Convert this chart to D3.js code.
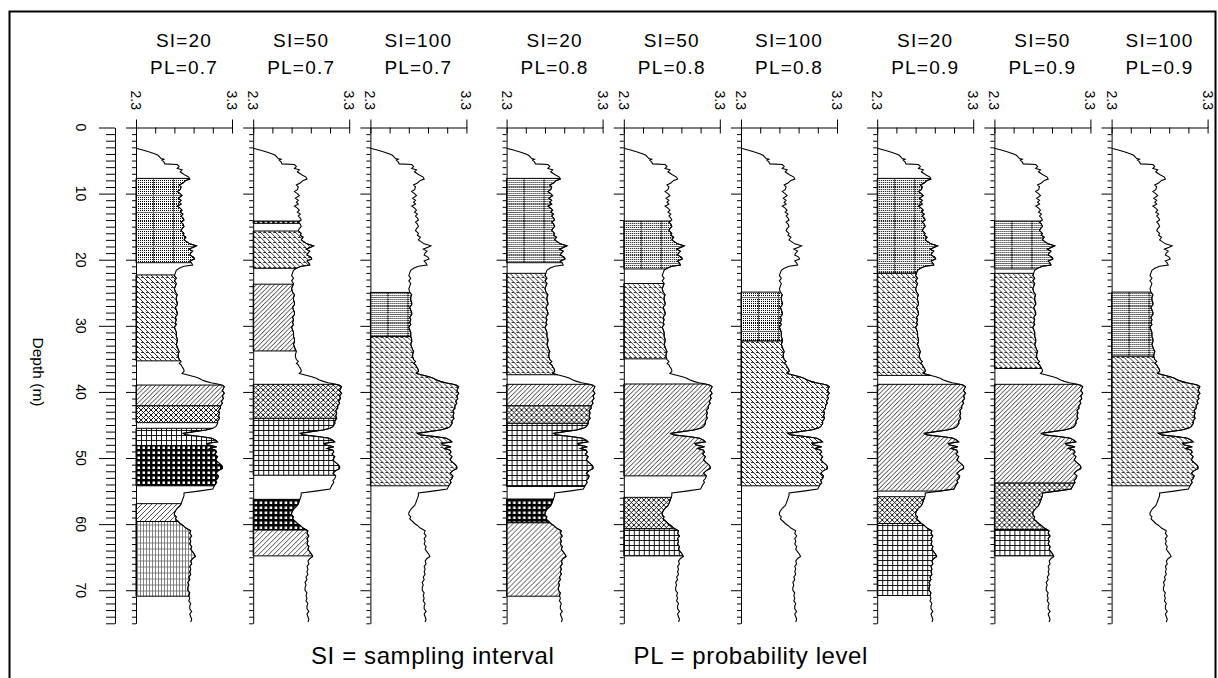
<!DOCTYPE html>
<html>
<head>
<meta charset="utf-8">
<script src="https://cdn.jsdelivr.net/npm/d3@7"></script>
<style>
  body { margin: 0; background: #fff; }
  svg { display: block; font-family: "Liberation Sans", Arial, sans-serif; }
</style>
</head>
<body>
<svg id="chart" width="1218" height="678"></svg>
<script>
// log curve: depth (m) and value (2.3 - 3.3)
const depth = [3.15, 3.4, 3.7, 4.0, 4.2, 4.5, 4.7, 4.8, 4.95, 5.2, 5.5, 5.6, 5.9, 6.2, 6.4, 6.7, 7.0, 7.2, 7.5, 7.8,
  8.0, 8.4, 8.7, 9.0, 9.4, 9.7, 10.0, 10.3, 10.7, 11.0, 11.3, 11.6, 11.9, 12.2, 12.5, 12.8, 13.1, 13.4, 13.7, 14.0,
  14.3, 14.6, 15.0, 15.3, 15.6, 16.0, 16.3, 16.6, 17.0, 17.3, 17.6, 17.9, 18.1, 18.4, 18.7, 19.0, 19.3, 19.6, 19.9, 20.2,
  20.5, 20.8, 21.0, 21.3, 21.6, 22.0, 22.4, 22.8, 23.2, 23.6, 24.0, 24.4, 24.9, 25.3, 25.7, 26.1, 26.5, 26.8, 27.2, 27.6,
  28.0, 28.3, 28.7, 29.1, 29.5, 29.8, 30.2, 30.6, 31.0, 31.6, 32.0, 32.4, 32.8, 33.2, 33.6, 33.9, 34.3, 34.7, 35.1, 35.4,
  35.7, 35.9, 36.2, 36.4, 36.7, 36.9, 37.2, 37.4, 37.7, 37.9, 38.2, 38.4, 38.6, 38.8, 39.0, 39.2, 39.5, 39.8, 40.2, 40.6,
  41.0, 41.4, 41.7, 42.1, 42.5, 42.8, 43.2, 43.6, 44.0, 44.4, 44.8, 45.26, 45.5, 45.76, 46.0, 46.27, 46.5, 46.77, 47.0, 47.3,
  47.55, 47.8, 48.0, 48.3, 48.55, 48.8, 49.1, 49.4, 49.8, 50.3, 50.7, 51.06, 51.3, 51.6, 51.9, 52.3, 52.7, 53.1, 53.4, 53.7,
  54.1, 54.4, 54.7, 55.0, 55.3, 55.7, 56.1, 56.5, 56.9, 57.2, 57.6, 58.0, 58.3, 58.6, 58.9, 59.2, 59.6, 59.9, 60.2, 60.6,
  61.0, 61.4, 61.8, 62.2, 62.6, 63.0, 63.4, 63.8, 64.2, 64.6, 64.9, 65.2, 65.6, 66.0, 66.4, 66.8, 67.2, 67.6, 68.0, 68.4,
  68.8, 69.2, 69.6, 70.0, 70.4, 70.8, 71.2, 71.6, 72.0, 72.4, 72.8, 73.2, 73.6, 74.0, 74.4, 74.8];
const logValue = [2.30, 2.37, 2.44, 2.50, 2.53, 2.55, 2.56, 2.59, 2.57, 2.59, 2.60, 2.73, 2.75, 2.73, 2.78, 2.76, 2.79, 2.81, 2.85, 2.86,
  2.82, 2.79, 2.75, 2.77, 2.76, 2.73, 2.76, 2.78, 2.74, 2.77, 2.75, 2.77, 2.73, 2.76, 2.78, 2.76, 2.79, 2.77, 2.79, 2.80,
  2.77, 2.79, 2.80, 2.78, 2.77, 2.80, 2.79, 2.82, 2.80, 2.83, 2.86, 2.93, 2.90, 2.85, 2.89, 2.87, 2.86, 2.90, 2.91, 2.86,
  2.88, 2.89, 2.80, 2.75, 2.72, 2.71, 2.70, 2.72, 2.70, 2.72, 2.71, 2.70, 2.71, 2.73, 2.72, 2.72, 2.73, 2.73, 2.71, 2.72,
  2.73, 2.73, 2.71, 2.72, 2.71, 2.72, 2.70, 2.71, 2.72, 2.72, 2.73, 2.73, 2.72, 2.73, 2.74, 2.75, 2.74, 2.74, 2.75, 2.77,
  2.75, 2.77, 2.78, 2.79, 2.80, 2.80, 2.78, 2.83, 2.91, 2.95, 2.99, 3.03, 3.08, 3.15, 3.20, 3.22, 3.21, 3.20, 3.22, 3.20,
  3.21, 3.19, 3.20, 3.18, 3.18, 3.16, 3.17, 3.16, 3.17, 3.15, 3.15, 3.13, 3.10, 3.03, 2.91, 2.79, 2.82, 2.99, 3.09, 3.13,
  3.15, 3.04, 3.05, 3.14, 3.07, 3.13, 3.14, 3.12, 3.15, 3.13, 3.16, 3.19, 3.20, 3.20, 3.16, 3.13, 3.16, 3.15, 3.13, 3.14,
  3.12, 3.11, 3.10, 2.95, 2.80, 2.80, 2.79, 2.78, 2.77, 2.76, 2.73, 2.71, 2.70, 2.70, 2.72, 2.71, 2.74, 2.76, 2.79, 2.82,
  2.87, 2.86, 2.88, 2.86, 2.87, 2.86, 2.88, 2.87, 2.89, 2.91, 2.92, 2.89, 2.87, 2.88, 2.86, 2.87, 2.86, 2.87, 2.85, 2.86,
  2.84, 2.85, 2.84, 2.84, 2.86, 2.85, 2.86, 2.85, 2.87, 2.86, 2.86, 2.88, 2.86, 2.87, 2.88, 2.87];

const siLabels = ['SI=20', 'SI=50', 'SI=100', 'SI=20', 'SI=50', 'SI=100', 'SI=20', 'SI=50', 'SI=100'];
const plLabels = ['PL=0.7', 'PL=0.7', 'PL=0.7', 'PL=0.8', 'PL=0.8', 'PL=0.8', 'PL=0.9', 'PL=0.9', 'PL=0.9'];
const valueTicks = [2.3, 2.5, 2.7, 2.9, 3.1, 3.3];
const valueLabels = ['2.3', '3.3'];
const depthLabels = [0, 10, 20, 30, 40, 50, 60, 70];

// zones per panel: [top depth, bottom depth, pattern]
const zones1 = [[7.7, 20.45, 'A'], [22.3, 35.3, 'B'], [38.96, 42.1, 'C'], [42.1, 44.65, 'D'], [45.5, 48.1, 'E'], [48.1, 54.2, 'F'], [56.9, 59.6, 'G'], [59.6, 70.9, 'H']];
const zones2 = [[14.15, 14.5, 'F'], [15.66, 21.3, 'B'], [23.7, 33.8, 'C'], [38.85, 44.0, 'D'], [44.0, 52.6, 'E'], [56.25, 60.9, 'F'], [60.9, 64.8, 'G']];
const zones3 = [[24.95, 31.6, 'A'], [31.6, 54.2, 'B']];
const zones4 = [[7.7, 20.45, 'A'], [22.06, 37.4, 'B'], [38.85, 42.1, 'C'], [42.1, 44.75, 'D'], [44.75, 54.3, 'E'], [56.2, 59.8, 'F'], [59.8, 70.9, 'G']];
const zones5 = [[14.15, 21.4, 'A'], [23.6, 35.0, 'B'], [38.8, 52.7, 'C'], [55.95, 60.7, 'D'], [60.7, 64.8, 'E']];
const zones6 = [[24.9, 32.3, 'A'], [32.3, 54.2, 'B']];
const zones7 = [[7.7, 22.06, 'A'], [22.06, 37.5, 'B'], [38.85, 55.0, 'C'], [55.85, 59.9, 'D'], [59.9, 70.8, 'E']];
const zones8 = [[14.15, 21.4, 'A'], [22.06, 36.45, 'B'], [38.85, 53.8, 'C'], [53.8, 60.8, 'D'], [60.8, 64.8, 'E']];
const zones9 = [[24.9, 34.6, 'A'], [34.6, 54.2, 'B']];
const panelZones = [zones1, zones2, zones3, zones4, zones5, zones6, zones7, zones8, zones9];

const svg = d3.select('#chart');
const panelWidth = 96;
const y = d3.scaleLinear().domain([0, 75]).range([127.5, 623.3]);
const x = d3.scaleLinear().domain([2.3, 3.3]).range([0, panelWidth]);
const panelLeft = i => 136 + Math.floor(i / 3) * 370.6 + (i % 3) * 117.2;

const curve = depth.map((d, i) => ({ d: d, v: logValue[i] }));

// fill patterns
const defs = svg.append('defs');
function pattern(id, w, h) {
  return defs.append('pattern').attr('id', id)
    .attr('patternUnits', 'userSpaceOnUse')
    .attr('width', w).attr('height', h);
}
const dots = pattern('dots', 2, 2);
dots.append('rect').attr('width', 1).attr('height', 1).attr('fill', '#000');

const pA = pattern('pA', 20, 17);
pA.append('rect').attr('width', 20).attr('height', 17).attr('fill', '#fff');
pA.append('rect').attr('width', 20).attr('height', 17).attr('fill', 'url(#dots)');
pA.append('path').attr('d', 'M17.5,0V17M0,8.5H20').attr('stroke', '#666').attr('stroke-width', 1);

const pB = pattern('pB', 5, 5);
pB.append('rect').attr('width', 5).attr('height', 5).attr('fill', '#fff');
pB.append('path').attr('d', 'M0,0L5,5M-1,4L1,6M4,-1L6,1M0,2.5H2.5').attr('stroke', '#000').attr('stroke-width', 0.8);

const pC = pattern('pC', 4.5, 4.5);
pC.append('rect').attr('width', 4.5).attr('height', 4.5).attr('fill', '#fff');
pC.append('path').attr('d', 'M0,4.5L4.5,0M-1,1L1,-1M3.5,5.5L5.5,3.5').attr('stroke', '#000').attr('stroke-width', 0.8);

const pD = pattern('pD', 5, 5);
pD.append('rect').attr('width', 5).attr('height', 5).attr('fill', '#fff');
pD.append('path').attr('d', 'M0,5L5,0M0,0L5,5').attr('stroke', '#000').attr('stroke-width', 0.9);

const pE = pattern('pE', 5, 5);
pE.append('rect').attr('width', 5).attr('height', 5).attr('fill', '#fff');
pE.append('path').attr('d', 'M0.5,0V5M0,0.5H5').attr('stroke', '#000').attr('stroke-width', 0.9);

const pF = pattern('pF', 5, 5);
pF.append('rect').attr('width', 5).attr('height', 5).attr('fill', '#000');
pF.append('rect').attr('x', 1.5).attr('y', 1.5).attr('width', 2.5).attr('height', 2.5).attr('fill', '#fff');

const pG = pattern('pG', 5, 5);
pG.append('rect').attr('width', 5).attr('height', 5).attr('fill', '#fff');
pG.append('path').attr('d', 'M0,5L5,0M-1,1L1,-1M4,6L6,4').attr('stroke', '#000').attr('stroke-width', 0.7);

const pH = pattern('pH', 3, 6);
pH.append('rect').attr('width', 3).attr('height', 6).attr('fill', '#fff');
pH.append('path').attr('d', 'M1.5,0V6M0,3H3').attr('stroke', '#666').attr('stroke-width', 0.8);

// value of the log at a given depth (linear between read points)
function valueAt(d) {
  const i = d3.bisector(p => p.d).left(curve, d);
  if (i <= 0) return curve[0].v;
  if (i >= curve.length) return curve[curve.length - 1].v;
  const a = curve[i - 1], b = curve[i];
  return a.v + (b.v - a.v) * (d - a.d) / (b.d - a.d);
}

const line = d3.line().x(p => x(p.v)).y(p => y(p.d));

panelZones.forEach((zones, i) => {
  const g = svg.append('g').attr('transform', `translate(${panelLeft(i)},0)`);

  // zones: from the left axis to the curve
  zones.forEach(z => {
    const pts = [{ d: z[0], v: 2.3 }, { d: z[0], v: valueAt(z[0]) }]
      .concat(curve.filter(p => p.d > z[0] && p.d < z[1]))
      .concat([{ d: z[1], v: valueAt(z[1]) }, { d: z[1], v: 2.3 }]);
    g.append('path')
      .attr('d', line(pts) + 'Z')
      .attr('fill', `url(#p${z[2]})`)
      .attr('stroke', '#000')
      .attr('stroke-width', 1);
  });

  // log curve
  g.append('path')
    .datum(curve)
    .attr('d', line)
    .attr('fill', 'none')
    .attr('stroke', '#000')
    .attr('stroke-width', 1.1);

  // top value axis
  g.append('g')
    .attr('transform', `translate(0,${y(0)})`)
    .call(d3.axisTop(x).tickValues(valueTicks).tickSizeInner(-6).tickSizeOuter(8).tickFormat(''))
    .call(a => a.selectAll('path, line').attr('stroke', '#000'));
  valueLabels.forEach(t => {
    g.append('text')
      .attr('transform', `translate(${x(+t) - 5},110) rotate(90)`)
      .attr('text-anchor', 'end')
      .attr('font-size', 14)
      .text(t);
  });

  // panel depth axis
  g.append('g')
    .call(d3.axisLeft(y).tickValues(d3.range(0, 76, 1)).tickSize(0).tickFormat(''))
    .call(a => a.select('.domain').attr('stroke', '#000'))
    .call(a => a.selectAll('.tick line')
      .attr('x2', d => d % 10 === 0 ? -10 : -4).attr('stroke', '#000'));

  // titles
  const cx = panelWidth / 2;
  g.append('text').attr('x', cx).attr('y', 47).attr('text-anchor', 'middle')
    .attr('font-size', 19).attr('letter-spacing', 1.2).text(siLabels[i]);
  g.append('text').attr('x', cx).attr('y', 74).attr('text-anchor', 'middle')
    .attr('font-size', 19).attr('letter-spacing', 1.2).text(plLabels[i]);
});

// main depth axis
const depthAxis = svg.append('g').attr('transform', 'translate(115,0)');
depthAxis.call(d3.axisLeft(y).tickValues(d3.range(0, 76, 1)).tickSize(0).tickFormat(''))
  .call(a => a.select('.domain').attr('stroke', '#000'))
  .call(a => a.selectAll('.tick line')
    .attr('x2', d => d % 10 === 0 ? -16 : -9).attr('stroke', '#000'));
depthLabels.forEach(t => {
  svg.append('text')
    .attr('transform', `translate(76,${y(t)}) rotate(90)`)
    .attr('text-anchor', 'middle')
    .attr('font-size', 14)
    .text(t);
});
svg.append('text')
  .attr('transform', 'translate(33,372) rotate(90)')
  .attr('text-anchor', 'middle')
  .attr('font-size', 15.5)
  .text('Depth (m)');

// caption
svg.append('text').attr('x', 311).attr('y', 664).attr('text-anchor', 'start')
  .attr('font-size', 24).attr('letter-spacing', 0.6).text('SI = sampling interval');
svg.append('text').attr('x', 868).attr('y', 664).attr('text-anchor', 'end')
  .attr('font-size', 24).attr('letter-spacing', 0.6).text('PL = probability level');

// frame
svg.append('rect').attr('x', 9.5).attr('y', 11.5).attr('width', 1206).attr('height', 670)
  .attr('fill', 'none').attr('stroke', '#000').attr('stroke-width', 2);
</script>
</body>
</html>
